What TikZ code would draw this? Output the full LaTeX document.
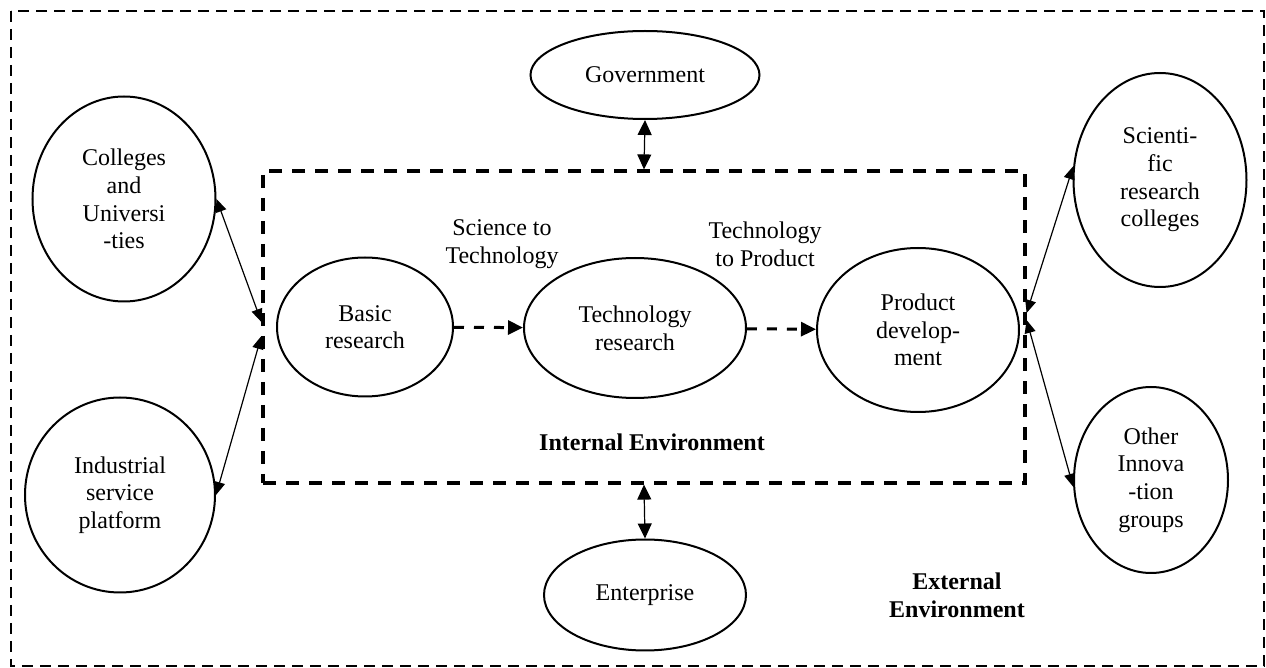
\documentclass[tikz,border=0pt]{standalone}
\usepackage{fontspec}
\setmainfont{Liberation Serif}
\usetikzlibrary{shapes.geometric,arrows.meta,fit}

\begin{document}
\begin{tikzpicture}[x=0.5pt,y=-0.5pt,
      font=\fontsize{12}{13.8}\selectfont,
      actor/.style={draw, ellipse, line width=1pt, inner sep=0pt, align=center},
      envbox/.style={draw, line width=1.6pt, dash pattern=on 6.5pt off 5pt, inner sep=0pt},
      envlabel/.style={font=\fontsize{12}{13.8}\selectfont\bfseries, align=center},
      link/.style={{Triangle[length=6.5pt,width=5.5pt]}-{Triangle[length=6.5pt,width=5.5pt]}, line width=0.6pt},
      vlink/.style={{Triangle[length=7.5pt,width=7pt]}-{Triangle[length=7.5pt,width=7pt]}, line width=0.6pt},
      flow/.style={-{Triangle[length=7.5pt,width=7pt]}, line width=1.5pt, dash pattern=on 5pt off 5pt}]
    \useasboundingbox (0,0) rectangle (1266,668);
    % external environment frame
    \draw[line width=1pt, dash pattern=on 5.5pt off 3.5pt] (11,11) rectangle (1264,666);
    \node[envbox, fit={(263,171) (1025,483)}] (internal) {};
    \node[envlabel] (intlabel) at (652,442) {Internal Environment};
    \node[envlabel] (extlabel) at (957,595) {External\\Environment};
    % inner chain
    \node[actor, minimum width=88pt, minimum height=69.5pt]  (basic) at (365,327) {Basic\\research};
    \node[actor, minimum width=111pt, minimum height=70pt]   (tech)  at (635,328) {Technology\\research};
    \node[actor, minimum width=101pt, minimum height=82pt]   (prod)  at (918,330) {Product\\develop-\\ment};
    \node[align=center] (s2t) at (502,244) {Science to\\Technology};
    \node[align=center] (t2p) at (765,244) {Technology\\to Product};
    % outside actors
    \node[actor, minimum width=114.5pt, minimum height=44pt] (gov)      at (645,75)   {Government};
    \node[actor, minimum width=101pt, minimum height=55.5pt] (ent)      at (645,595)  {Enterprise};
    \node[actor, minimum width=91.5pt, minimum height=102.5pt] (colleges) at (124,199) {Colleges\\and\\Universi\\-ties};
    \node[actor, minimum width=95pt, minimum height=97.5pt]  (industry) at (120,495)  {Industrial\\service\\platform};
    \node[actor, minimum width=86.5pt, minimum height=107pt] (sci)      at (1160,180) {Scienti-\\fic\\research\\colleges};
    \node[actor, minimum width=77pt, minimum height=93pt]    (other)    at (1151,480) {Other\\Innova\\-tion\\groups};
    \draw[flow] (basic) -- (tech);
    \draw[flow] (tech) -- (prod);
    \draw[vlink] (gov.south) -- (internal.north);
    \draw[vlink] (internal.south) -- (ent.north);
    \draw[link] (colleges.east) -- ([yshift=2.5pt]internal.west);
    \draw[link] ([yshift=-4.5pt]internal.west) -- (industry.east);
    \draw[link] ([yshift=7pt]internal.east) -- (sci.171);
    \draw[link] ([yshift=3.5pt]internal.east) -- (other.185);
  \end{tikzpicture}
\end{document}
